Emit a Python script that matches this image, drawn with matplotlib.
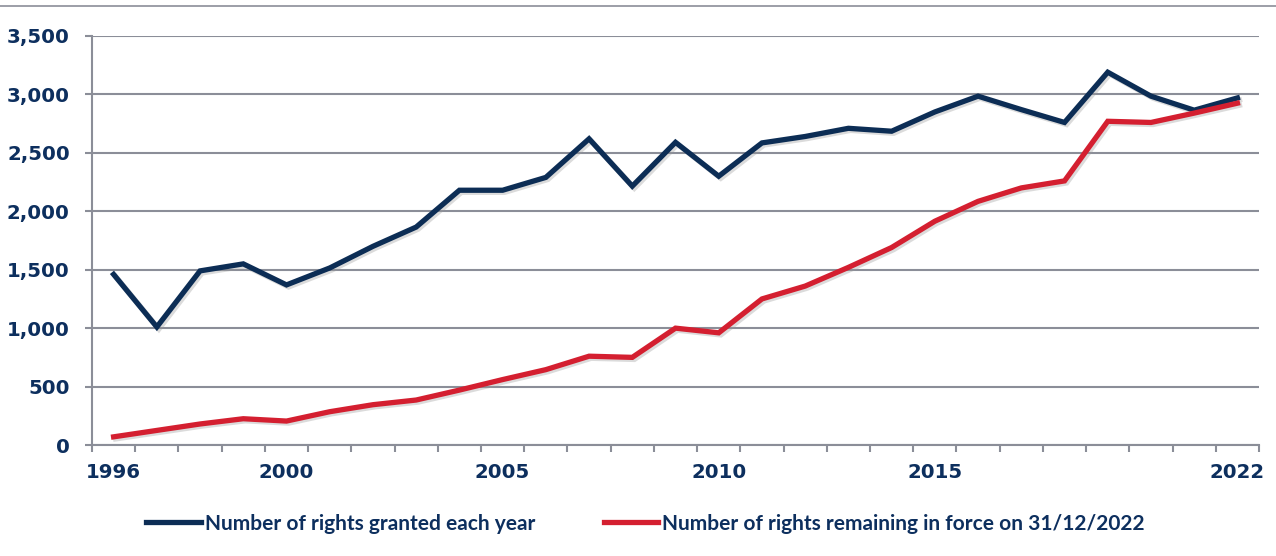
import numpy as np
import matplotlib
matplotlib.use("Agg")
import matplotlib.pyplot as plt
import matplotlib.patheffects as pe
from matplotlib.lines import Line2D

# data
years = list(range(1996, 2023))
granted = [1460, 1010, 1490, 1550, 1370, 1515, 1700, 1865, 2180, 2180,
           2290, 2620, 2215, 2590, 2300, 2585, 2640, 2710, 2685, 2850,
           2985, 2870, 2760, 3190, 2985, 2865, 2970]
in_force = [70, 125, 180, 225, 205, 285, 345, 385, 470, 560,
            645, 760, 750, 1000, 960, 1250, 1360, 1520, 1690, 1915,
            2085, 2200, 2260, 2770, 2760, 2840, 2925]
label_years = [1996, 2000, 2005, 2010, 2015, 2022]
series_names = ["Number of rights granted each year",
                "Number of rights remaining in force on 31/12/2022"]

navy = "#0c2d55"
red = "#d41f30"
grid_c = "#8b8e98"
txt_c = "#0d2f5e"

fig = plt.figure(figsize=(12.76, 5.56), dpi=100)
ax = fig.add_axes([0.0721, 0.1996, 0.9146, 0.7357])

shadow = [pe.SimpleLineShadow(offset=(1.5, -1.5), shadow_color="#999999", alpha=0.35), pe.Normal()]
ax.plot(years, granted, color=navy, lw=3.8, solid_joinstyle="miter", path_effects=shadow, zorder=3)
ax.plot(years, in_force, color=red, lw=3.8, solid_joinstyle="miter", path_effects=shadow, zorder=3)

ax.set_xlim(1995.5, 2022.5)
ax.set_ylim(0, 3500)
ax.set_yticks(np.arange(0, 3501, 500))
ax.set_yticklabels([f"{v:,}" for v in range(0, 3501, 500)])
ax.set_xticks(label_years)
ax.set_xticklabels([str(y) for y in label_years])
ax.set_xticks(np.arange(1995.5, 2023, 1), minor=True)

ax.grid(axis="y", color=grid_c, lw=1.5, zorder=1)
for s in ["top", "right"]:
    ax.spines[s].set_visible(False)
for s in ["left", "bottom"]:
    ax.spines[s].set_color(grid_c)
    ax.spines[s].set_linewidth(1.5)

ax.tick_params(axis="x", which="major", length=0, pad=13, labelsize=14.2, labelcolor=txt_c)
ax.tick_params(axis="x", which="minor", length=5, width=1.5, color=grid_c, direction="out")
ax.tick_params(axis="y", length=5, width=1.5, color=grid_c, pad=11, labelsize=14.2, labelcolor=txt_c)
for t in ax.get_xticklabels() + ax.get_yticklabels():
    t.set_fontweight("bold")

# top border line
fig.add_artist(Line2D([0, 1], [0.989, 0.989], color=grid_c, lw=1.2, transform=fig.transFigure))

handles = [Line2D([], [], color=navy, lw=3.8), Line2D([], [], color=red, lw=3.8)]
leg = fig.legend(handles, series_names, loc="center", bbox_to_anchor=(0.506, 0.058),
                 ncol=2, frameon=False, handlelength=2.6, handletextpad=0.2,
                 columnspacing=3.3, prop={"family": "Lato", "weight": "bold", "size": 15})
for t in leg.get_texts():
    t.set_color(txt_c)

fig.savefig("out.png", dpi=100)
